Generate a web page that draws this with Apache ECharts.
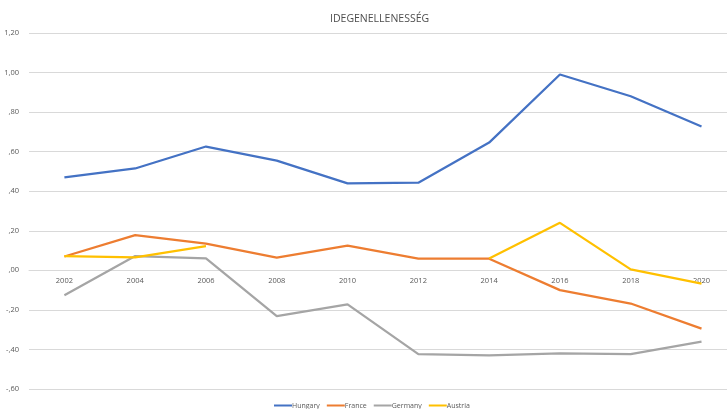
<!DOCTYPE html>
<html>
<head>
<meta charset="utf-8">
<script src="https://cdn.jsdelivr.net/npm/echarts@6/dist/echarts.min.js"></script>
<style>
    html, body { margin: 0; padding: 0; background: #ffffff; }
    #chart { width: 727px; height: 409px; }
</style>
</head>
<body>
<div id="chart"></div>
<script>
    // years on the x axis
    var years = [2002, 2004, 2006, 2008, 2010, 2012, 2014, 2016, 2018, 2020];

    // values
    var hungary = [0.47, 0.515, 0.626, 0.555, 0.44, 0.443, 0.646, 0.99, 0.88, 0.727];
    var france = [0.07, 0.178, 0.135, 0.064, 0.125, 0.059, 0.059, -0.10, -0.168, -0.295];
    var germany = [-0.126, 0.072, 0.06, -0.232, -0.172, -0.424, -0.43, -0.42, -0.424, -0.36];
    var austria = [0.072, 0.066, 0.122, null, null, null, 0.06, 0.24, 0.005, -0.067];

    var yMin = -0.6, yMax = 1.2;
    var gridTop = 33, gridBottom = 20, chartH = 409;

    var fmt = function (v) {
        var s = v.toFixed(2).replace('.', ',');
        return s.replace(/^(-?)0,/, '$1,');
    };

    function line(name, data, color) {
        return {
            name: name,
            type: 'line',
            data: years.map(function (y, i) { return [y, data[i]]; }),
            showSymbol: false,
            symbol: 'none',
            lineStyle: { width: 2.25, color: color },
            itemStyle: { color: color }
        };
    }

    // the original chart is cut off on the right, so the last band runs past the edge
    // (title and legend are centred on the uncut width, a bit right of the middle)
    var plotH = chartH - gridTop - gridBottom;
    var zeroOffset = -plotH * (0 - yMin) / (yMax - yMin);

    echarts.init(document.getElementById('chart')).setOption({
        animation: false,
        title: {
            text: 'IDEGENELLENESSÉG',
            left: 325,
            top: 9,
            textStyle: { fontFamily: 'Open Sans', fontSize: 10.5, fontWeight: 'normal', color: '#4d4d4d' }
        },
        legend: {
            bottom: -5,
            left: 269,
            icon: 'rect',
            itemWidth: 18,
            itemHeight: 2,
            itemGap: 7,
            textStyle: { fontFamily: 'Open Sans', fontSize: 7, color: '#595959', padding: [0, 0, 0, -5] },
            data: ['Hungary', 'France', 'Germany', 'Austria']
        },
        grid: { left: 29, right: 0, top: gridTop, bottom: gridBottom },
        xAxis: {
            type: 'value',
            min: 2001,
            max: 2020.72,
            offset: zeroOffset,
            splitLine: { show: false },
            axisLine: { onZero: false, lineStyle: { color: '#d9d9d9' } },
            axisTick: { show: false },
            axisLabel: {
                fontFamily: 'Open Sans', fontSize: 7.5, color: '#595959', margin: 7,
                customValues: years,
                formatter: function (v) { return String(v); }
            }
        },
        yAxis: {
            type: 'value',
            min: yMin,
            max: yMax,
            interval: 0.2,
            axisLine: { show: false },
            axisTick: { show: false },
            axisLabel: { fontFamily: 'Open Sans', fontSize: 7.5, color: '#595959', margin: 10, formatter: fmt },
            splitLine: { lineStyle: { color: '#d9d9d9', width: 1 } }
        },
        series: [
            line('Hungary', hungary, '#4472C4'),
            line('France', france, '#ED7D31'),
            line('Germany', germany, '#A5A5A5'),
            line('Austria', austria, '#FFC000')
        ]
    });
</script>
</body>
</html>
